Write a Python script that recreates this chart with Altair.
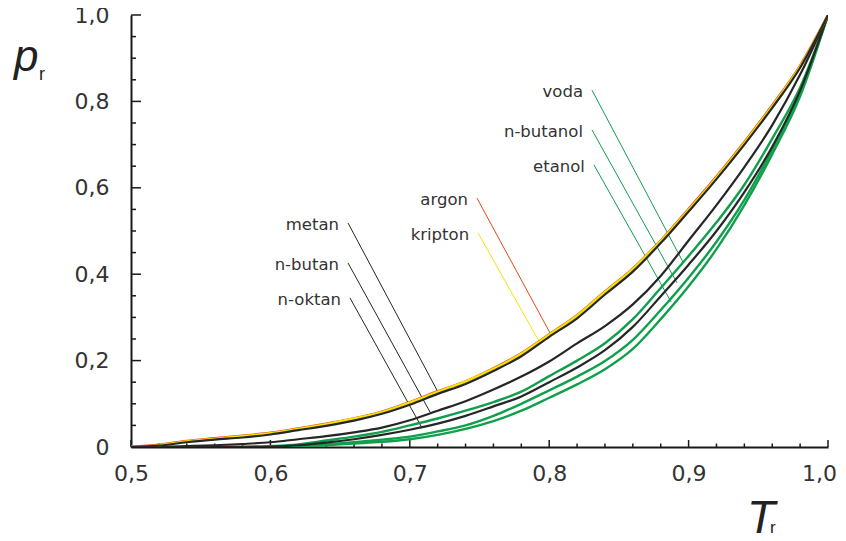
import altair as alt
import pandas as pd

# ---------------- data ----------------
T = [0.50, 0.52, 0.54, 0.56, 0.58, 0.60, 0.62, 0.64, 0.66, 0.68, 0.70, 0.72, 0.74,
     0.76, 0.78, 0.80, 0.82, 0.84, 0.86, 0.88, 0.90, 0.92, 0.94, 0.96, 0.98, 1.00]

argon = [0.0, 0.005, 0.014, 0.020, 0.026, 0.033, 0.043, 0.054, 0.066, 0.082, 0.104, 0.129, 0.152,
         0.182, 0.217, 0.261, 0.305, 0.360, 0.413, 0.478, 0.551, 0.626, 0.706, 0.791, 0.883, 1.0]
kripton = [0.0, 0.004, 0.013, 0.019, 0.025, 0.032, 0.042, 0.053, 0.066, 0.081, 0.103, 0.128, 0.152,
           0.181, 0.216, 0.260, 0.304, 0.359, 0.412, 0.477, 0.549, 0.624, 0.704, 0.789, 0.881, 1.0]
metan = [0.0, 0.003, 0.011, 0.017, 0.022, 0.029, 0.039, 0.049, 0.061, 0.077, 0.098, 0.123, 0.146,
         0.176, 0.210, 0.255, 0.298, 0.353, 0.406, 0.472, 0.545, 0.620, 0.700, 0.785, 0.878, 1.0]
n_butan = [0.0, 0.0, 0.002, 0.004, 0.007, 0.011, 0.018, 0.025, 0.034, 0.045, 0.062, 0.084, 0.106,
           0.133, 0.163, 0.198, 0.240, 0.280, 0.330, 0.396, 0.478, 0.560, 0.648, 0.745, 0.862, 1.0]
n_oktan = [0.0, 0.0, 0.0, 0.0, 0.0, 0.001, 0.004, 0.010, 0.018, 0.028, 0.040, 0.054, 0.072,
           0.094, 0.117, 0.150, 0.184, 0.224, 0.278, 0.349, 0.422, 0.500, 0.590, 0.695, 0.825, 1.0]
voda = [0.0, 0.0, 0.0, 0.0, 0.0, 0.002, 0.006, 0.015, 0.024, 0.035, 0.050, 0.066, 0.084,
        0.104, 0.128, 0.164, 0.200, 0.240, 0.296, 0.368, 0.442, 0.520, 0.607, 0.714, 0.832, 1.0]
n_butanol = [0.0, 0.0, 0.0, 0.0, 0.0, 0.0, 0.002, 0.006, 0.011, 0.017, 0.024, 0.036, 0.050,
             0.072, 0.100, 0.131, 0.163, 0.199, 0.248, 0.317, 0.392, 0.475, 0.572, 0.688, 0.820, 1.0]
etanol = [0.0, 0.0, 0.0, 0.0, 0.0, 0.0, 0.001, 0.004, 0.008, 0.012, 0.018, 0.028, 0.042,
          0.060, 0.084, 0.114, 0.145, 0.180, 0.227, 0.296, 0.372, 0.458, 0.560, 0.678, 0.812, 1.0]

# leader lines: start (label end) and end (on curve), in data units
lead_names = ["metan", "n-butan", "n-oktan", "argon", "kripton", "voda", "n-butanol", "etanol"]
lead_T1 = [0.6557, 0.6557, 0.6571, 0.7482, 0.7490, 0.8307, 0.8307, 0.8321]
lead_p1 = [0.5185, 0.4260, 0.3450, 0.5760, 0.4950, 0.8260, 0.7340, 0.6530]
lead_T2 = [0.7202, 0.7145, 0.7088, 0.8006, 0.7934, 0.8960, 0.8917, 0.8874]
lead_p2 = [0.1273, 0.0810, 0.0440, 0.2640, 0.2410, 0.4280, 0.3800, 0.3360]

x_major = [0.5, 0.6, 0.7, 0.8, 0.9, 1.0]
x_minor = [0.52, 0.54, 0.56, 0.58, 0.62, 0.64, 0.66, 0.68, 0.72, 0.74, 0.76, 0.78,
           0.82, 0.84, 0.86, 0.88, 0.92, 0.94, 0.96, 0.98]
y_major = [0.0, 0.2, 0.4, 0.6, 0.8, 1.0]
y_minor = [0.05, 0.1, 0.15, 0.25, 0.3, 0.35, 0.45, 0.5, 0.55, 0.65, 0.7, 0.75, 0.85, 0.9, 0.95]

# ---------------- styles ----------------
RED = "#e8481c"
YEL = "#f5e400"
BLK = "#262626"
GRN = "#10a04c"
TXT = "#333333"
colors = {"argon": RED, "kripton": YEL, "metan": BLK, "n-butan": BLK, "n-oktan": BLK,
          "voda": GRN, "n-butanol": GRN, "etanol": GRN}

W, H = 697, 432
xs = alt.Scale(domain=[0.5, 1.0], nice=False, zero=False)
ys = alt.Scale(domain=[0.0, 1.0], nice=False, zero=False)

fmt = "datum.value == 0 ? '0' : replace(format(datum.value, '.1f'), '.', ',')"

# axes carrier
axes = alt.Chart(pd.DataFrame({"T": [0.5], "p": [0.0]})).mark_point(opacity=0).encode(
    x=alt.X("T:Q", scale=xs, axis=alt.Axis(
        values=x_major, labelExpr=fmt, ticks=False, grid=False, title=None,
        domainColor="#1a1a1a", domainWidth=2, labelFont="DejaVu Sans", labelFontSize=22,
        labelColor=TXT, labelPadding=16, labelFlush=False,
        labelOffset={"expr": "datum.value >= 0.99 ? -9 : 0"})),
    y=alt.Y("p:Q", scale=ys, axis=alt.Axis(
        values=y_major, labelExpr=fmt, ticks=False, grid=False, title=None,
        domainColor="#1a1a1a", domainWidth=2, labelFont="DejaVu Sans", labelFontSize=22,
        labelColor=TXT, labelPadding=22, labelFlush=False)),
)

def xticks(vals, length):
    return alt.Chart(pd.DataFrame({"T": vals})).mark_rule(color="#1a1a1a", strokeWidth=1.5).encode(
        x=alt.X("T:Q", scale=xs), y=alt.value(H), y2=alt.value(H - length))

def yticks(vals, length):
    return alt.Chart(pd.DataFrame({"p": vals})).mark_rule(color="#1a1a1a", strokeWidth=1.5).encode(
        y=alt.Y("p:Q", scale=ys), x=alt.value(0), x2=alt.value(length))

def curve(vals, color, width):
    return alt.Chart(pd.DataFrame({"T": T, "p": vals})).mark_line(
        color=color, strokeWidth=width, clip=True, interpolate="monotone").encode(
        x=alt.X("T:Q", scale=xs), y=alt.Y("p:Q", scale=ys))

lead_df = pd.DataFrame({"name": lead_names, "T1": lead_T1, "p1": lead_p1,
                        "T2": lead_T2, "p2": lead_p2})
cscale = alt.Scale(domain=list(colors.keys()), range=list(colors.values()))

leaders = alt.Chart(lead_df).mark_rule(strokeWidth=1).encode(
    x=alt.X("T1:Q", scale=xs), y=alt.Y("p1:Q", scale=ys),
    x2="T2:Q", y2="p2:Q",
    color=alt.Color("name:N", scale=cscale, legend=None))

labels = alt.Chart(lead_df).mark_text(
    align="right", baseline="middle", dx=-9, dy=2, font="DejaVu Sans", fontSize=16.5,
    color=TXT).encode(
    x=alt.X("T1:Q", scale=xs), y=alt.Y("p1:Q", scale=ys), text="name:N")

def title_text(txt, x, y, size, italic=True):
    return alt.Chart(pd.DataFrame({"t": [txt]})).mark_text(
        align="left", baseline="alphabetic", font="Liberation Sans", fontSize=size,
        fontStyle="italic" if italic else "normal", color="#222222").encode(
        x=alt.value(x), y=alt.value(y), text="t:N")

titles = [
    title_text("p", -117, 56, 44),
    title_text("r", -92, 65, 18, italic=False),
    title_text("T", 616, 518, 46),
    title_text("r", 639, 518, 17, italic=False),
]

layers = [axes,
          xticks(x_major, 7), xticks(x_minor, 3.5),
          yticks(y_major, 10), yticks(y_minor, 5),
          leaders,
          curve(etanol, GRN, 2.4), curve(n_butanol, GRN, 2.4), curve(voda, GRN, 2.4),
          curve(n_oktan, BLK, 2.2), curve(n_butan, BLK, 2.2),
          curve(argon, RED, 2.5), curve(kripton, YEL, 2.3), curve(metan, BLK, 2.2),
          labels] + titles

chart = alt.layer(*layers).properties(
    width=W, height=H,
    autosize=alt.AutoSizeParams(type="none"),
    padding={"left": 123, "top": 7, "right": 10, "bottom": 86},
).configure_view(stroke=None)

chart.save("out.html", embed_options={"renderer": "svg", "actions": False})
